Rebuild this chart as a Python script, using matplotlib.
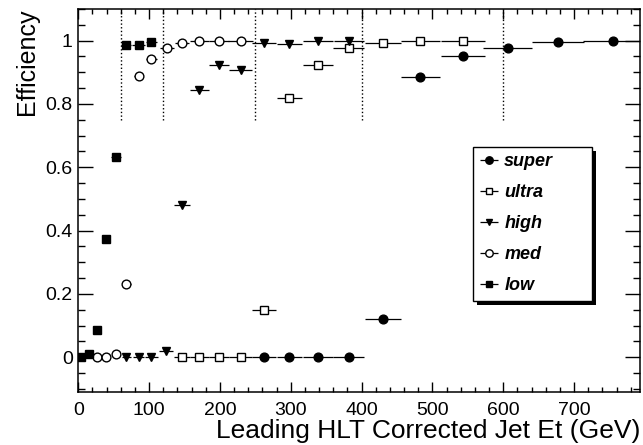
import matplotlib
matplotlib.use("Agg")
import matplotlib.pyplot as plt
from matplotlib.patches import Rectangle
from matplotlib.ticker import MultipleLocator, FormatStrFormatter

plt.rcParams["font.family"] = ["Liberation Sans", "DejaVu Sans"]

# trigger turn-on curves: bin centre, half bin width, efficiency
super_x = [262, 298, 338, 382, 430, 483, 543, 606, 677, 755]
super_xerr = [17, 18, 21, 22, 25, 28, 31, 35, 37, 42]
super_y = [0.0, 0.0, 0.0, 0.0, 0.121, 0.885, 0.952, 0.978, 0.996, 1.0]

ultra_x = [146, 171, 199, 229, 262, 298, 338, 382, 430, 483, 543]
ultra_xerr = [11, 13, 14, 16, 17, 18, 21, 22, 25, 28, 31]
ultra_y = [0.0, 0.0, 0.0, 0.0, 0.15, 0.818, 0.922, 0.976, 0.994, 0.998, 0.998]

high_x = [68, 85, 103, 124, 146, 171, 199, 229, 262, 298, 338, 382]
high_xerr = [7, 8, 9, 10, 11, 13, 14, 16, 17, 18, 21, 21]
high_y = [0.0, 0.0, 0.0, 0.02, 0.481, 0.845, 0.924, 0.908, 0.992, 0.99, 1.0, 1.0]

med_x = [26, 39, 53, 68, 85, 103, 125, 146, 171, 199, 229]
med_xerr = [4, 5, 6, 6, 7, 8, 10, 10, 13, 14, 17]
med_y = [0.0, 0.0, 0.01, 0.232, 0.887, 0.943, 0.976, 0.992, 0.998, 1.0, 1.0]

low_x = [3.5, 14.5, 26, 39, 53, 67.5, 85, 103]
low_xerr = [3.5, 5, 5, 6, 7, 7.5, 9, 8]
low_y = [0.0, 0.01, 0.085, 0.372, 0.631, 0.985, 0.985, 0.997]

thresholds = [60, 120, 250, 400, 600]

fig = plt.figure(figsize=(6.43, 4.45), dpi=100)
ax = fig.add_axes([0.1218, 0.1191, 0.8735, 0.8607])

series = [
    ("super", super_x, super_xerr, super_y, "o", "black", 6.3),
    ("ultra", ultra_x, ultra_xerr, ultra_y, "s", "white", 5.6),
    ("high", high_x, high_xerr, high_y, "v", "black", 5.6),
    ("med", med_x, med_xerr, med_y, "o", "white", 6.3),
    ("low", low_x, low_xerr, low_y, "s", "black", 5.6),
]
handles = []
for name, x, xe, y, mk, fc, ms in series:
    h = ax.errorbar(x, y, xerr=xe, fmt=mk, ms=ms, mfc=fc, mec="black", mew=1.0,
                    ecolor="black", elinewidth=0.9, capsize=0, zorder=3, label=name)
    handles.append(h)

ax.vlines(thresholds, 0.75, 1.1, colors="black", linestyles=":", lw=1.0, zorder=1)

ax.set_xlim(0, 793)
ax.set_ylim(-0.11, 1.10)
ax.xaxis.set_major_locator(MultipleLocator(100))
ax.xaxis.set_minor_locator(MultipleLocator(20))
ax.yaxis.set_major_locator(MultipleLocator(0.2))
ax.yaxis.set_minor_locator(MultipleLocator(0.05))
ax.yaxis.set_major_formatter(FormatStrFormatter("%g"))
ax.tick_params(which="both", direction="in", top=True, right=True, width=1.0, labelsize=14)
ax.tick_params(axis="x", which="major", length=7, pad=7)
ax.tick_params(axis="x", which="minor", length=3.6)
ax.tick_params(axis="y", which="major", length=10.8, pad=4)
ax.tick_params(axis="y", which="minor", length=5)
for s in ax.spines.values():
    s.set_linewidth(1.1)

ax.set_xlabel("Leading HLT Corrected Jet Et (GeV)", fontsize=19, loc="right", labelpad=0)
ax.set_ylabel("Efficiency", fontsize=18, loc="top", labelpad=5)

leg = ax.legend(handles=handles, loc="upper left", bbox_to_anchor=(0.702, 0.6405, 0.212, 0.0),
                mode="expand", fancybox=False, edgecolor="black", framealpha=1,
                prop={"weight": "bold", "style": "italic", "size": 13}, markerscale=0.85,
                handlelength=1.1, handletextpad=0.3, labelspacing=0.78, borderpad=0.35,
                borderaxespad=0)
leg.get_frame().set_linewidth(1.0)
leg.set_zorder(6)

# ROOT-style solid drop shadow behind the legend box
fig.canvas.draw()
bb = leg.get_window_extent().transformed(ax.transAxes.inverted())
dx, dy = 4 / ax.bbox.width, 4 / ax.bbox.height
shadow = Rectangle((bb.x0 + dx, bb.y0 - dy), bb.width, bb.height, transform=ax.transAxes,
                   facecolor="black", edgecolor="none", zorder=5, clip_on=False)
ax.add_patch(shadow)

fig.savefig("out.png", dpi=100)
